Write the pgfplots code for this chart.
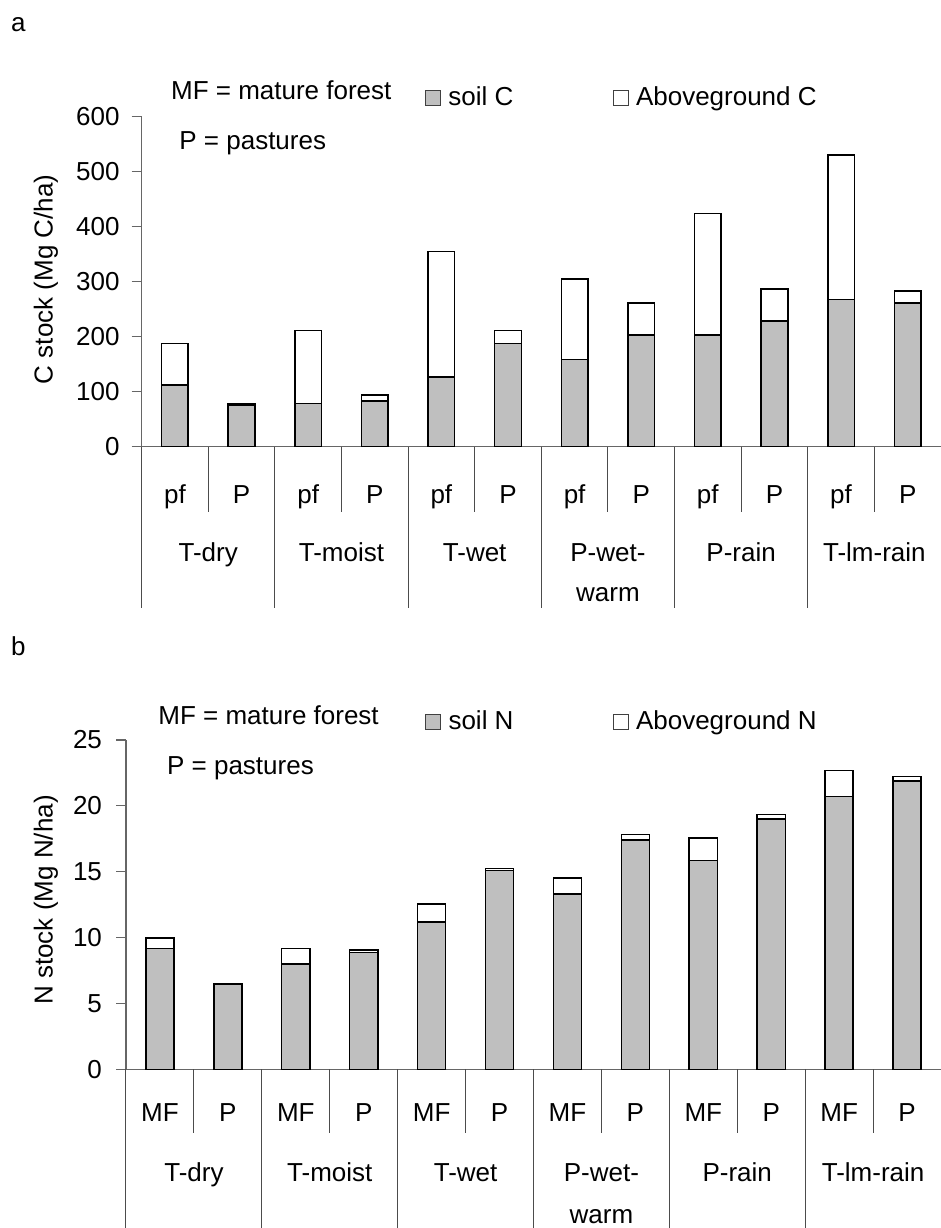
\documentclass[border=0pt]{standalone}
\usepackage{pgfplots}
\pgfplotsset{compat=1.18}
\usepackage{fontspec}
\setmainfont{Liberation Sans}
\newcommand\ff{\fontsize{13pt}{15.6pt}\selectfont}

\tikzset{sepline/.style={draw=black!70, line width=0.5pt}}
\pgfplotsset{
 mystyle/.style={
  scale only axis,
  axis lines=left,
  axis line style={-, draw=black!60, line width=0.6pt},
  enlargelimits=false,
  xmin=0.5, xmax=12.5, ymin=0,
  xtick={1,...,12},
  xtick style={draw=none},
  ytick style={draw=black!60, line width=0.6pt},
  tick align=outside,
  major tick length=5pt,
  tick label style={font=\ff},
  /pgf/number format/assume math mode=true,
  label style={font=\ff},
  clip=false,
  ybar stacked,
  legend columns=2,
  legend image code/.code={\path[draw=none,fill=none] (0pt,0pt) (9.5pt,0pt);\draw[#1,draw=black!75,line width=0.5pt] (0pt,-3.75pt) rectangle (7.5pt,3.75pt);},
  legend style={draw=none, fill=none, inner sep=0pt, outer sep=0pt, font=\ff, anchor=west,
    nodes={inner sep=2pt},
    /tikz/every even column/.append style={column sep=47.5pt}},
  legend cell align=left,
 },
 soil/.style={fill=black!25, draw=black, line width=0.75pt},
 above/.style={fill=white, draw=black, line width=0.75pt},
}

\begin{document}
\begin{tikzpicture}
\path[use as bounding box] (0,0) rectangle (470.5pt,-614pt);
% ---------------- panel a ----------------
\node[anchor=base west, inner sep=0pt, font=\ff] at (5.35pt,-15.85pt) {a};
\node[anchor=base west, inner sep=0pt, font=\ff] at (85.35pt,-49.65pt) {MF = mature forest};
\node[anchor=base west, inner sep=0pt, font=\ff] at (89.5pt,-74.65pt) {P = pastures};
\begin{axis}[mystyle,
  at={(70.8pt,-223.35pt)}, anchor=south west,
  width=399.7pt, height=165pt,
  ymax=600, ytick={0,100,...,600},
  bar width=0.4,
  xticklabels={pf,P,pf,P,pf,P,pf,P,pf,P,pf,P},
  xticklabel style={anchor=base, yshift=-23.25pt},
  yticklabel style={xshift=-2.5pt},
  ylabel={C stock (Mg C/ha)},
  ylabel style={at={(axis description cs:-0.1196,0.507)}, anchor=center},
  legend style={at={(axis description cs:0.3545,1.0567)}},
]
\addplot[soil] coordinates {(1,112) (2,76) (3,79) (4,83) (5,127) (6,188) (7,159) (8,203) (9,203) (10,229) (11,268) (12,261)};
\addlegendentry{soil C}
\addplot[above] coordinates {(1,76) (2,3) (3,132) (4,11) (5,228) (6,23) (7,146) (8,58) (9,221) (10,58) (11,262) (12,22)};
\addlegendentry{Aboveground C}
\pgfplotsinvokeforeach{0.5,2.5,4.5,6.5,8.5,10.5}{\draw[sepline] (axis cs:#1,0) -- ++(0pt,-80.8pt);}
\pgfplotsinvokeforeach{1.5,3.5,5.5,7.5,9.5,11.5}{\draw[sepline] (axis cs:#1,0) -- ++(0pt,-32.5pt);}
\node[anchor=base, font=\ff, yshift=-57.5pt] at (axis cs:1.5,0) {T-dry};
\node[anchor=base, font=\ff, yshift=-57.5pt] at (axis cs:3.5,0) {T-moist};
\node[anchor=base, font=\ff, yshift=-57.5pt] at (axis cs:5.5,0) {T-wet};
\node[anchor=base, align=center, font=\fontsize{13pt}{20pt}\selectfont, yshift=-77.5pt] at (axis cs:7.5,0) {P-wet-\\warm};
\node[anchor=base, font=\ff, yshift=-57.5pt] at (axis cs:9.5,0) {P-rain};
\node[anchor=base, font=\ff, yshift=-57.5pt] at (axis cs:11.5,0) {T-lm-rain};
\end{axis}
% ---------------- panel b ----------------
\node[anchor=base west, inner sep=0pt, font=\ff] at (5.35pt,-327.5pt) {b};
\node[anchor=base west, inner sep=0pt, font=\ff] at (79pt,-362pt) {MF = mature forest};
\node[anchor=base west, inner sep=0pt, font=\ff] at (83.35pt,-387pt) {P = pastures};
\begin{axis}[mystyle,
  at={(63pt,-534.65pt)}, anchor=south west,
  width=407.5pt, height=164.65pt,
  ymax=25, ytick={0,5,...,25},
  bar width=0.415,
  xticklabels={MF,P,MF,P,MF,P,MF,P,MF,P,MF,P},
  xticklabel style={anchor=base, yshift=-21.2pt},
  yticklabel style={xshift=-3.5pt},
  ylabel={N stock (Mg N/ha)},
  ylabel style={at={(axis description cs:-0.0982,0.514)}, anchor=center},
  legend style={at={(axis description cs:0.3669,1.0547)}},
]
\addplot[soil] coordinates {(1,9.17) (2,6.46) (3,7.98) (4,8.86) (5,11.19) (6,15.10) (7,13.31) (8,17.40) (9,15.86) (10,19.02) (11,20.70) (12,21.89)};
\addlegendentry{soil N}
\addplot[above] coordinates {(1,0.80) (2,0) (3,1.21) (4,0.18) (5,1.36) (6,0.15) (7,1.21) (8,0.43) (9,1.69) (10,0.32) (11,1.98) (12,0.33)};
\addlegendentry{Aboveground N}
\pgfplotsinvokeforeach{0.5,2.5,4.5,6.5,8.5,10.5}{\draw[sepline] (axis cs:#1,0) -- ++(0pt,-80pt);}
\pgfplotsinvokeforeach{1.5,3.5,5.5,7.5,9.5,11.5}{\draw[sepline] (axis cs:#1,0) -- ++(0pt,-32pt);}
\node[anchor=base, font=\ff, yshift=-56.2pt] at (axis cs:1.5,0) {T-dry};
\node[anchor=base, font=\ff, yshift=-56.2pt] at (axis cs:3.5,0) {T-moist};
\node[anchor=base, font=\ff, yshift=-56.2pt] at (axis cs:5.5,0) {T-wet};
\node[anchor=base, align=center, font=\fontsize{13pt}{21pt}\selectfont, yshift=-77.2pt] at (axis cs:7.5,0) {P-wet-\\warm};
\node[anchor=base, font=\ff, yshift=-56.2pt] at (axis cs:9.5,0) {P-rain};
\node[anchor=base, font=\ff, yshift=-56.2pt] at (axis cs:11.5,0) {T-lm-rain};
\end{axis}
\end{tikzpicture}
\end{document}
